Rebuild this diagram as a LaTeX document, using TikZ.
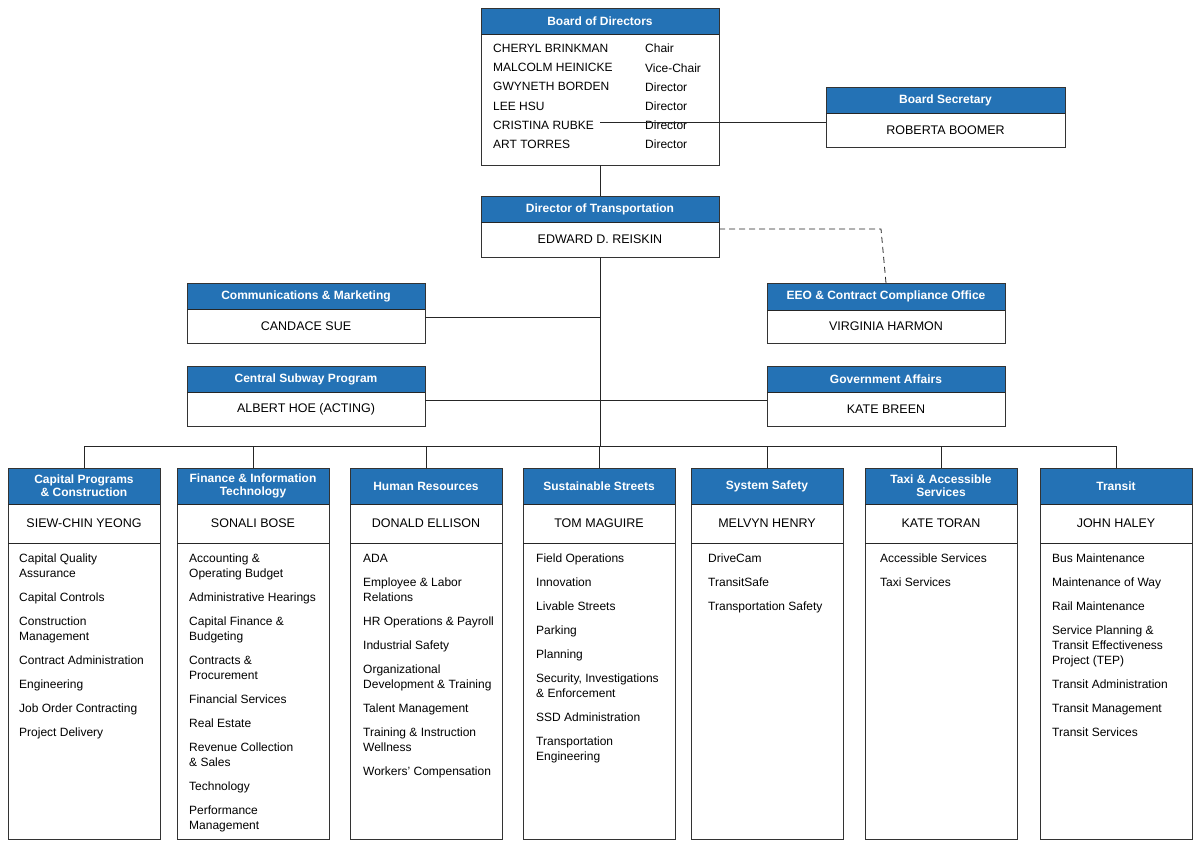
\documentclass[tikz,border=0pt]{standalone}
\usepackage{fontspec}
\setmainfont{Liberation Sans}
\definecolor{hb}{HTML}{2472B5}
\begin{document}
\begin{tikzpicture}[x=1pt,y=-1pt,
 hdr/.style={fill=hb,draw=black!80,line width=0.8pt},
 bx/.style={draw=black!80,line width=0.8pt,fill=white},
 ht/.style={text=white,font=\fontsize{12}{13}\selectfont\bfseries,align=center},
 nt/.style={font=\fontsize{12.5}{14}\selectfont},
 lt/.style={font=\fontsize{12}{15}\selectfont,align=left,anchor=north west,inner sep=0pt},
 ln/.style={draw=black!85,line width=0.8pt}]
\useasboundingbox (0,0) rectangle (1200,847);
% helper
\newcommand{\tbox}[7]{% name, x1,y1,y2,x2,y3,title ; #8 body via separate
  \fill[hb] (#2,#3) rectangle (#5,#4);
  \draw[bx,fill=none] (#2,#3) rectangle (#5,#6);
  \draw[ln] (#2,#4) -- (#5,#4);
  \node[ht] (#1h) at ({(#2+#5)/2},{(#3+#4)/2}) {#7};
  \coordinate (#1) at ({(#2+#5)/2},{(#4+#6)/2});
  \coordinate (#1t) at ({(#2+#5)/2},#3);
  \coordinate (#1b) at ({(#2+#5)/2},#6);
  \coordinate (#1l) at (#2,{(#4+#6)/2});
  \coordinate (#1r) at (#5,{(#4+#6)/2});
}
% Board
\tbox{bd}{481}{8}{34}{719}{165}{Board of Directors}
\node[lt,font=\fontsize{12}{19.2}\selectfont] (bdn) at (493,44) {CHERYL BRINKMAN\\MALCOLM HEINICKE\\GWYNETH BORDEN\\LEE HSU\\CRISTINA RUBKE\\ART TORRES};
\node[lt,font=\fontsize{12}{19.2}\selectfont] (bdr) at (645,44) {Chair\\Vice-Chair\\Director\\Director\\Director\\Director};
\tbox{bs}{826}{87}{113}{1065}{147}{Board Secretary}
\node[nt] (bsn) at (bs) {ROBERTA BOOMER};
\tbox{dt}{481}{196}{222}{719}{257}{Director of Transportation}
\node[nt] (dtn) at (dt) {EDWARD D. REISKIN};
\tbox{cm}{187}{283}{309}{425}{343}{Communications \& Marketing}
\node[nt] (cmn) at (cm) {CANDACE SUE};
\tbox{ee}{767}{283}{310}{1005}{343}{EEO \& Contract Compliance Office}
\node[nt] (een) at (ee) {VIRGINIA HARMON};
\tbox{cs}{187}{366}{392}{425}{426}{Central Subway Program}
\node[nt] (csn) at (cs) {ALBERT HOE (ACTING)};
\tbox{ga}{767}{366}{392}{1005}{426}{Government Affairs}
\node[nt] (gan) at (ga) {KATE BREEN};
% connectors
\coordinate (bsj) at (600,122);
\draw[ln] (bsj) -- (bsj-|bsl);
\draw[ln] (bdb) -- (dtt);
\coordinate (cmj) at (600,317);
\draw[ln] (cmj) -- (cmj-|cmr);
\coordinate (csj) at (600,400);
\draw[ln] (csj-|csr) -- (csj-|gal);
\coordinate (ej) at (881,229);
\draw[ln,dash pattern=on 6pt off 4pt] (ej-|dtr) -- (ej) -- (eet);
\coordinate (bus) at (600,446);
\draw[ln] (dtb) -- (bus);
% columns
\foreach \n/\a/\t/\p [count=\i] in {
 c1/8/{Capital Programs\\\& Construction}/SIEW-CHIN YEONG,
 c2/177/{Finance \& Information\\Technology}/SONALI BOSE,
 c3/350/Human Resources/DONALD ELLISON,
 c4/523/Sustainable Streets/TOM MAGUIRE,
 c5/691/System Safety/MELVYN HENRY,
 c6/865/{Taxi \& Accessible\\Services}/KATE TORAN,
 c7/1040/Transit/JOHN HALEY}{
 \pgfmathsetmacro{\b}{\a+152}
 \fill[hb] (\a,468) rectangle (\b,504);
 \draw[bx,fill=none] (\a,468) rectangle (\b,839);
 \draw[ln] (\a,504) -- (\b,504) (\a,543) -- (\b,543);
 \node[ht,font=\fontsize{12}{13}\selectfont\bfseries] (\n h) at ({\a+76},486) {\t};
 \node[nt] (\n p) at ({\a+76},523) {\p};
 \coordinate (\n t) at ({\a+76},468);
 \draw[ln] (\n t) -- ({\a+76},446);
}
\draw[ln] (c1t|-bus) -- (c7t|-bus);
\tikzset{gap/.style={}}
\def\g{\\[9pt]}
\node[lt] (l1) at (19,554) {Capital Quality\\Assurance\g Capital Controls\g Construction\\Management\g Contract Administration\g Engineering\g Job Order Contracting\g Project Delivery};
\node[lt] (l2) at (189,554) {Accounting \&\\Operating Budget\g Administrative Hearings\g Capital Finance \&\\Budgeting\g Contracts \&\\Procurement\g Financial Services\g Real Estate\g Revenue Collection\\\& Sales\g Technology\g Performance\\Management};
\node[lt] (l3) at (363,554) {ADA\g Employee \& Labor\\Relations\g HR Operations \& Payroll\g Industrial Safety\g Organizational\\Development \& Training\g Talent Management\g Training \& Instruction\\Wellness\g Workers’ Compensation};
\node[lt] (l4) at (536,554) {Field Operations\g Innovation\g Livable Streets\g Parking\g Planning\g Security, Investigations\\\& Enforcement\g SSD Administration\g Transportation\\Engineering};
\node[lt] (l5) at (708,554) {DriveCam\g TransitSafe\g Transportation Safety};
\node[lt] (l6) at (880,554) {Accessible Services\g Taxi Services};
\node[lt] (l7) at (1052,554) {Bus Maintenance\g Maintenance of Way\g Rail Maintenance\g Service Planning \&\\Transit Effectiveness\\Project (TEP)\g Transit Administration\g Transit Management\g Transit Services};
\end{tikzpicture}
\end{document}
